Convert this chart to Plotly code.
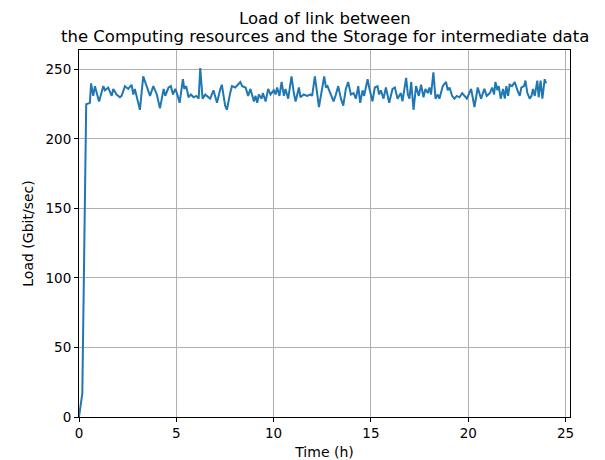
import plotly.graph_objects as go

time_h = [0, 0.17, 0.37, 0.5, 0.56, 0.62, 0.73, 0.82, 1.03, 1.25, 1.33, 1.5, 1.68, 1.76, 1.93,
          2.1, 2.19, 2.36, 2.53, 2.7, 2.79, 2.87, 3.13, 3.3, 3.47, 3.65, 3.82, 4.0, 4.16,
          4.35, 4.43, 4.6, 4.72, 4.83, 4.95, 5.03, 5.17, 5.34, 5.41, 5.51, 5.63, 5.75, 5.89,
          6.03, 6.15, 6.23, 6.35, 6.49, 6.57, 6.74, 6.91, 7.09, 7.26, 7.34, 7.51, 7.6, 7.77,
          7.86, 8.03, 8.29, 8.39, 8.56, 8.69, 8.81, 8.99, 9.07, 9.16, 9.24, 9.38, 9.45, 9.59,
          9.72, 9.84, 10.01, 10.1, 10.18, 10.3, 10.41, 10.53, 10.61, 10.75, 10.92, 11.04, 11.13,
          11.3, 11.38, 11.55, 11.72, 11.9, 11.98, 12.12, 12.33, 12.6, 12.69, 12.77, 12.91,
          13.08, 13.2, 13.32, 13.46, 13.58, 13.71, 13.83, 13.97, 14.11, 14.23, 14.35, 14.45,
          14.57, 14.65, 14.83, 14.91, 15.0, 15.08, 15.2, 15.34, 15.42, 15.51, 15.65, 15.77,
          15.94, 16.11, 16.23, 16.37, 16.54, 16.62, 16.81, 16.9, 16.98, 17.07, 17.19, 17.32,
          17.46, 17.58, 17.7, 17.8, 17.92, 18.01, 18.09, 18.21, 18.32, 18.44, 18.52, 18.69,
          18.86, 18.95, 19.04, 19.17, 19.29, 19.41, 19.55, 19.69, 19.81, 19.93, 20.15, 20.32,
          20.49, 20.66, 20.83, 20.95, 21.11, 21.23, 21.33, 21.4, 21.5, 21.57, 21.67, 21.79,
          21.88, 21.96, 22.05, 22.13, 22.25, 22.39, 22.53, 22.65, 22.73, 22.87, 22.94, 23.04,
          23.16, 23.25, 23.33, 23.42, 23.55, 23.62, 23.72, 23.81, 23.93, 24.0]

load_gbit = [0, 17, 225, 226, 226, 240, 231, 238, 227, 238, 235, 237, 231, 236, 232,
             230, 231, 238, 236, 239, 232, 236, 221, 245, 238, 231, 238, 232, 222,
             236, 231, 237, 238, 232, 236, 233, 226, 243, 236, 238, 230, 232, 230,
             231, 229, 251, 229, 232, 231, 229, 235, 226, 236, 239, 224, 221, 233,
             238, 237, 241, 238, 237, 231, 236, 227, 231, 226, 232, 229, 233, 227,
             236, 232, 235, 232, 237, 231, 241, 231, 236, 229, 245, 233, 227,
             237, 230, 232, 231, 232, 231, 245, 223, 245, 237, 238, 233,
             227, 232, 238, 229, 224, 236, 241, 232, 233, 229, 238, 226,
             235, 231, 243, 237, 231, 227, 237, 238, 232, 235, 229, 237,
             226, 236, 237, 229, 233, 227, 244, 232, 229, 241, 221, 238,
             231, 239, 230, 236, 233, 237, 232, 248, 229, 232, 229, 238,
             241, 235, 237, 231, 229, 231, 230, 233, 231, 229, 236, 223,
             237, 229, 236, 231, 233, 237, 232, 241, 235, 238, 229, 236,
             229, 238, 231, 239, 238, 241, 235, 231, 237, 238, 242, 233,
             229, 231, 236, 231, 242, 230, 242, 229, 243, 240]

x_ticks = [0, 5, 10, 15, 20, 25]
y_ticks = [0, 50, 100, 150, 200, 250]
title_lines = ["Load of link between",
               "the Computing resources and the Storage for intermediate data"]

FONT = "DejaVu Sans"

fig = go.Figure()
fig.add_trace(go.Scatter(x=time_h, y=load_gbit, mode="lines",
                         line=dict(color="#1f77b4", width=2), showlegend=False))

axis_common = dict(showline=True, linecolor="black", linewidth=1, mirror=True,
                   showgrid=True, gridcolor="#b0b0b0", gridwidth=1,
                   ticks="outside", ticklen=4, tickwidth=1, tickcolor="black",
                   zeroline=False, automargin=False,
                   tickfont=dict(family=FONT, size=13.5, color="black"))

annotations = []
for line, shift in zip(title_lines, [32, 14]):
    annotations.append(dict(text=line, xref="paper", yref="paper", x=0.5, y=1,
                            xanchor="center", yanchor="middle", yshift=shift,
                            showarrow=False,
                            font=dict(family=FONT, size=16.5, color="black")))

fig.update_layout(
    width=597, height=452,
    margin=dict(l=71, r=35, t=42, b=43),
    paper_bgcolor="white", plot_bgcolor="white",
    font=dict(family=FONT, color="black"),
    xaxis=dict(range=[0, 25.23], tickvals=x_ticks,
               title=dict(text="Time (h)", font=dict(family=FONT, size=14), standoff=6),
               **axis_common),
    yaxis=dict(range=[0, 264], tickvals=y_ticks,
               title=dict(text="Load (Gbit/sec)", font=dict(family=FONT, size=14), standoff=8),
               **axis_common),
    annotations=annotations,
)

fig.write_html("out.html")
